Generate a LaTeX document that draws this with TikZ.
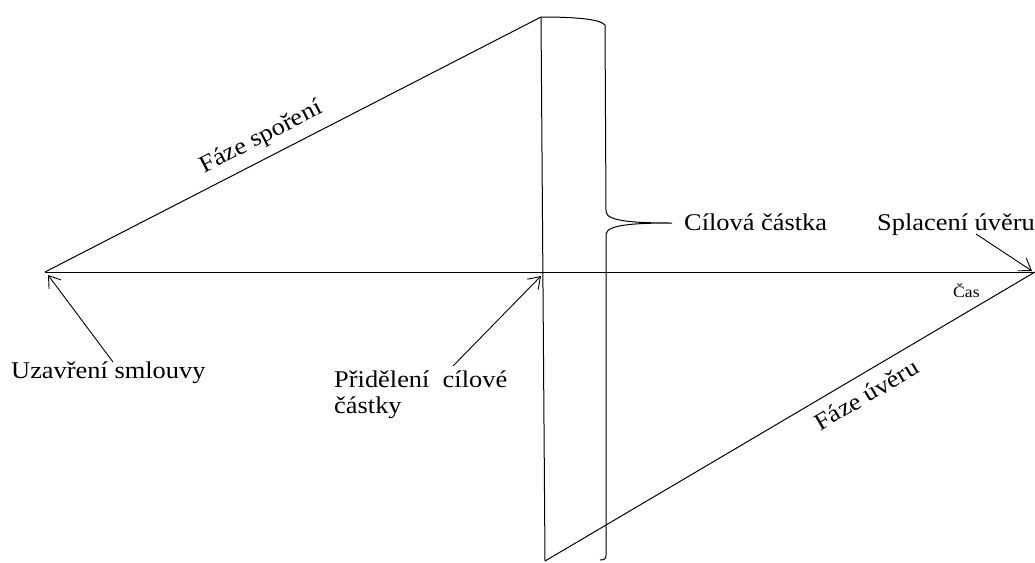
\documentclass[tikz,border=0pt]{standalone}
\usepackage{fontspec}
\setmainfont[FakeStretch=1.1]{Liberation Serif}
\usetikzlibrary{arrows.meta}
\begin{document}
\begin{tikzpicture}[x=1pt,y=-1pt,
  ln/.style={line width=1pt,black},
  ptr/.style={line width=0.9pt,-{Straight Barb[length=11pt,width=15pt,line width=0.9pt]}},
  lbl/.style={inner sep=0pt,anchor=base west,font=\fontsize{24}{26}\selectfont},
  slbl/.style={inner sep=0pt,font=\fontsize{24}{26}\selectfont,sloped},
  small/.style={inner sep=0pt,anchor=base west,font=\fontsize{16}{18}\selectfont}]
\useasboundingbox (0,0) rectangle (1035,562);
% key points
\coordinate (O) at (45,272);
\coordinate (T) at (541,17);
\coordinate (B) at (545,561);
\coordinate (E) at (1035,272);
\coordinate (P) at (541,276);
\coordinate (uzt) at (113,362);
\coordinate (prt) at (453,366);
\coordinate (spt) at (976,234);
\coordinate (uzh) at (48,275);
\coordinate (sph) at (1032,271);
% axis and phase lines
\draw[ln] (O) -- (E);
\draw[ln] (O) -- (T) node[slbl,pos=0.455,above=9pt] (fs) {Fáze spoření};
\draw[ln] (T) -- (B);
\draw[ln] (B) -- (E) node[slbl,pos=0.635,below=11pt] (fu) {Fáze úvěru};
% brace
\draw[ln] (T) .. controls (575,17) and (600,19) .. (605,25) -- (606,212)
  .. controls (607,222) and (640,223) .. (672,223)
  .. controls (640,223) and (607,224) .. (606,234) -- (606,555)
  .. controls (606,559) and (604,560) .. (600,560);
% labels
\node[lbl] (cil) at (684,230) {Cílová částka};
\node[lbl] (spl) at (877,230) {Splacení úvěru};
\node[lbl] (uz) at (11,378) {Uzavření smlouvy};
\node[lbl,align=left] (pr) at (334,413) {Přidělení\ \ cílové\\částky};
\node[small] (cas) at (953,297) {Čas};
% pointers
\draw[ptr] (uzt) -- (uzh);
\draw[ptr] (prt) -- (P);
\draw[ptr] (spt) -- (sph);
\end{tikzpicture}
\end{document}
